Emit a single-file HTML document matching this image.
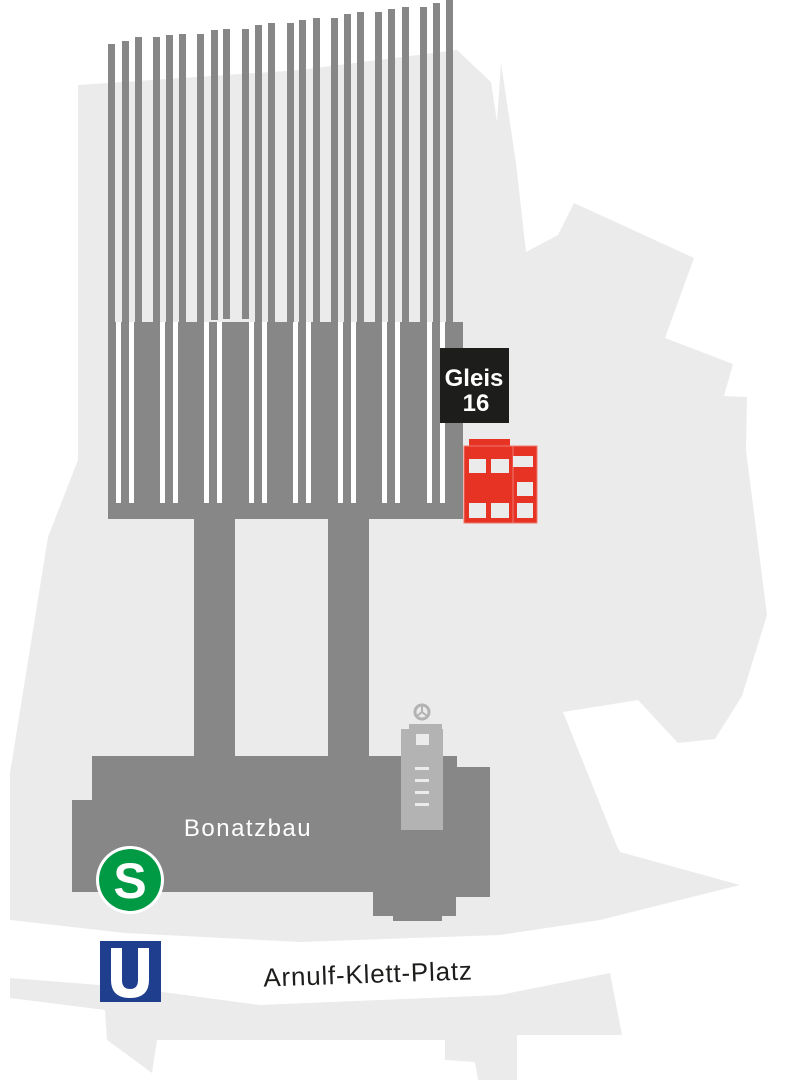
<!DOCTYPE html>
<html><head><meta charset="utf-8"><style>
html,body{margin:0;padding:0;background:#fff;}
svg{display:block;}
</style></head><body>
<svg width="809" height="1080" viewBox="0 0 809 1080" xmlns="http://www.w3.org/2000/svg">
<path fill="#ebebeb" d="M78,85 L300,70 L457,50 L491,82 L497,122 L501,63 L516,163 L526,252 L558,235 L574,203 L694,258 L665,338 L733,364 L724,396 L747,397 L746,450 L767,615 L742,696 L715,739 L678,743 L638,700 L563,712 L616,844 L620,852 L740,885 L600,920 L500,935 L300,942 L125,933 L10,920 L10,773 L48,537 L78,460 Z"/>
<path fill="#ebebeb" d="M10,978 L125,987 L260,1005 L500,995 L610,973 L622,1035 L517,1035 L517,1080 L478,1080 L475,1062 L445,1060 L445,1040 L157,1040 L152,1073 L107,1040 L105,1010 L10,998 Z"/>
<g fill="#878787">
<rect x="108" y="44" width="7" height="290"/>
<rect x="122" y="41" width="7" height="290"/>
<rect x="135" y="37" width="7" height="290"/>
<rect x="153" y="37" width="7" height="290"/>
<rect x="166" y="35" width="7" height="290"/>
<rect x="179" y="34" width="7" height="290"/>
<rect x="197" y="34" width="7" height="290"/>
<rect x="211" y="30" width="7" height="290"/>
<rect x="223" y="29" width="7" height="290"/>
<rect x="242" y="29" width="7" height="290"/>
<rect x="255" y="25" width="7" height="300"/>
<rect x="268" y="23" width="7" height="300"/>
<rect x="287" y="23" width="7" height="300"/>
<rect x="299" y="20" width="7" height="310"/>
<rect x="313" y="18" width="7" height="310"/>
<rect x="331" y="18" width="7" height="310"/>
<rect x="344" y="14" width="7" height="310"/>
<rect x="357" y="12" width="7" height="310"/>
<rect x="375" y="12" width="7" height="310"/>
<rect x="388" y="9" width="7" height="320"/>
<rect x="402" y="7" width="7" height="320"/>
<rect x="420" y="7" width="7" height="320"/>
<rect x="433" y="3" width="7" height="320"/>
<rect x="446" y="0" width="7" height="330"/>
<rect x="108" y="322" width="355" height="197"/>
<rect x="194" y="518" width="41" height="242"/>
<rect x="328" y="518" width="41" height="242"/>
<path d="M92,756 L457,756 L457,767 L490,767 L490,897 L456,897 L456,916 L442,916 L442,921 L393,921 L393,916 L373,916 L373,892 L72,892 L72,800 L92,800 Z"/>
</g>
<g fill="#fff">
<rect x="116" y="322" width="5" height="181"/><rect x="129" y="322" width="5" height="181"/>
<rect x="160" y="322" width="5" height="181"/><rect x="173" y="322" width="5" height="181"/>
<rect x="204" y="322" width="5" height="181"/><rect x="217" y="322" width="5" height="181"/>
<rect x="249" y="322" width="5" height="181"/><rect x="262" y="322" width="5" height="181"/>
<rect x="293" y="322" width="5" height="181"/><rect x="306" y="322" width="5" height="181"/>
<rect x="338" y="322" width="5" height="181"/><rect x="351" y="322" width="5" height="181"/>
<rect x="382" y="322" width="5" height="181"/><rect x="395" y="322" width="5" height="181"/>
<rect x="427" y="322" width="5" height="181"/><rect x="440" y="322" width="5" height="181"/>
</g>
<rect x="440" y="348" width="69" height="75" fill="#1d1d1b"/>
<text x="474" y="386" fill="#fff" font-family="Liberation Sans, sans-serif" font-weight="bold" font-size="24" text-anchor="middle">Gleis</text>
<text x="476" y="411" fill="#fff" font-family="Liberation Sans, sans-serif" font-weight="bold" font-size="24" text-anchor="middle">16</text>
<rect x="469" y="439" width="41" height="8" fill="#e63323"/>
<rect x="464" y="446" width="49" height="77" fill="#e63323" stroke="#f07a70" stroke-width="1"/>
<rect x="513" y="446" width="24" height="77" fill="#e63323" stroke="#f07a70" stroke-width="1"/>
<g fill="#ebebeb">
<rect x="469" y="459" width="17" height="14"/><rect x="491" y="459" width="18" height="14"/>
<rect x="469" y="503" width="17" height="15"/><rect x="491" y="503" width="18" height="15"/>
<rect x="513" y="456" width="20" height="11"/>
<rect x="517" y="482" width="16" height="14"/>
<rect x="517" y="503" width="16" height="15"/>
</g>
<rect x="409" y="724" width="33" height="6" fill="#b3b3b3"/>
<rect x="401" y="729" width="42" height="101" fill="#b3b3b3"/>
<circle cx="422" cy="712" r="7" fill="none" stroke="#b3b3b3" stroke-width="3"/>
<path d="M422,712 L422,706 M422,712 L417,716 M422,712 L427,716" stroke="#b3b3b3" stroke-width="2"/>
<rect x="416" y="734" width="13" height="11" fill="#ebebeb"/>
<g fill="#ebebeb"><rect x="415" y="767" width="14" height="3"/><rect x="415" y="779" width="14" height="3"/><rect x="415" y="791" width="14" height="3"/><rect x="415" y="803" width="14" height="3"/></g>
<text x="248" y="836" fill="#fff" font-family="Liberation Sans, sans-serif" font-size="24" text-anchor="middle" letter-spacing="1.5">Bonatzbau</text>
<circle cx="130" cy="880" r="34" fill="#fff"/>
<circle cx="130" cy="880" r="31" fill="#009a44"/>
<text x="130" y="898" fill="#fff" font-family="Liberation Sans, sans-serif" font-weight="bold" font-size="50" text-anchor="middle">S</text>
<rect x="100" y="941" width="61" height="61" fill="#1f3e8e"/>
<path d="M111,948 L122,948 L122,980 Q122,989 130,989 Q138,989 138,980 L138,948 L149,948 L149,980 Q149,998 130,998 Q111,998 111,980 Z" fill="#fff"/>
<text x="368" y="983" fill="#1d1d1b" font-family="Liberation Sans, sans-serif" font-size="26" text-anchor="middle" transform="rotate(-2 368 975)" letter-spacing="0.8">Arnulf-Klett-Platz</text>
</svg>
</body></html>
